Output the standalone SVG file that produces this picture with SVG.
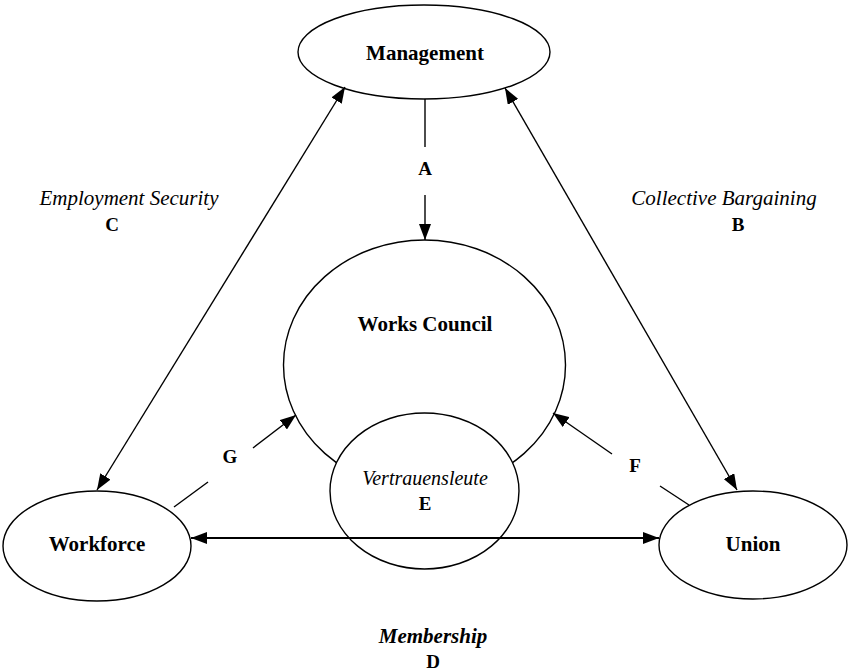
<svg xmlns="http://www.w3.org/2000/svg" width="850" height="672" viewBox="0 0 850 672">
<style>
.node{fill:#fff;stroke:#000;stroke-width:1.4}
.ln{fill:none;stroke:#000;stroke-width:1.4}
.t{font-family:"Liberation Serif","Times New Roman",serif;fill:#000;text-anchor:middle}
.b{font-weight:bold;font-size:21px}
.i{font-style:italic;font-size:21px}
.l{font-weight:bold;font-size:19px}
</style>
<defs>
<marker id="ah" viewBox="0 0 16 12" refX="16" refY="6" markerWidth="16" markerHeight="12" markerUnits="userSpaceOnUse" orient="auto-start-reverse">
<path d="M0,0 L16,6 L0,12 z" fill="#000"/>
</marker>
</defs>
<rect width="850" height="672" fill="#fff"/>
<g id="management">
<ellipse class="node" cx="424" cy="52" rx="126" ry="47"/>
<text class="t b" x="425" y="60">Management</text>
</g>
<g id="works-council">
<ellipse class="node" cx="424.5" cy="365" rx="141" ry="125"/>
<text class="t b" x="425" y="331">Works Council</text>
</g>
<g id="vertrauensleute">
<ellipse class="node" cx="424.5" cy="491" rx="94.5" ry="78"/>
<text class="t i" style="font-size:20px" x="425" y="485">Vertrauensleute</text>
<text class="t l" x="425" y="510">E</text>
</g>
<g id="workforce">
<ellipse class="node" cx="97" cy="546" rx="94" ry="55"/>
<text class="t b" x="97" y="551">Workforce</text>
</g>
<g id="union">
<ellipse class="node" cx="753" cy="545" rx="94" ry="54"/>
<text class="t b" x="753" y="551">Union</text>
</g>
<g id="connectors">
<line class="ln" x1="425" y1="99" x2="425" y2="147"/>
<line class="ln" x1="425" y1="195" x2="425" y2="240" marker-end="url(#ah)"/>
<line class="ln" x1="345" y1="87" x2="97" y2="490" marker-start="url(#ah)" marker-end="url(#ah)"/>
<line class="ln" x1="505" y1="88" x2="737" y2="490" marker-start="url(#ah)" marker-end="url(#ah)"/>
<line class="ln" style="stroke-width:2" x1="191" y1="538" x2="659" y2="538" marker-start="url(#ah)" marker-end="url(#ah)"/>
<line class="ln" x1="174" y1="507" x2="208" y2="482"/>
<line class="ln" x1="253" y1="448" x2="296" y2="415" marker-end="url(#ah)"/>
<line class="ln" x1="689" y1="505" x2="660" y2="486"/>
<line class="ln" x1="612" y1="454" x2="553" y2="413" marker-end="url(#ah)"/>
</g>
<g id="labels">
<text class="t l" x="425" y="175">A</text>
<text class="t i" x="129" y="205">Employment Security</text>
<text class="t l" x="112" y="231">C</text>
<text class="t i" x="724" y="205">Collective Bargaining</text>
<text class="t l" x="738" y="231">B</text>
<text class="t l" x="230" y="463">G</text>
<text class="t l" x="635" y="472">F</text>
<text class="t b" style="font-style:italic" x="433" y="643">Membership</text>
<text class="t l" x="433" y="668">D</text>
</g>
</svg>
